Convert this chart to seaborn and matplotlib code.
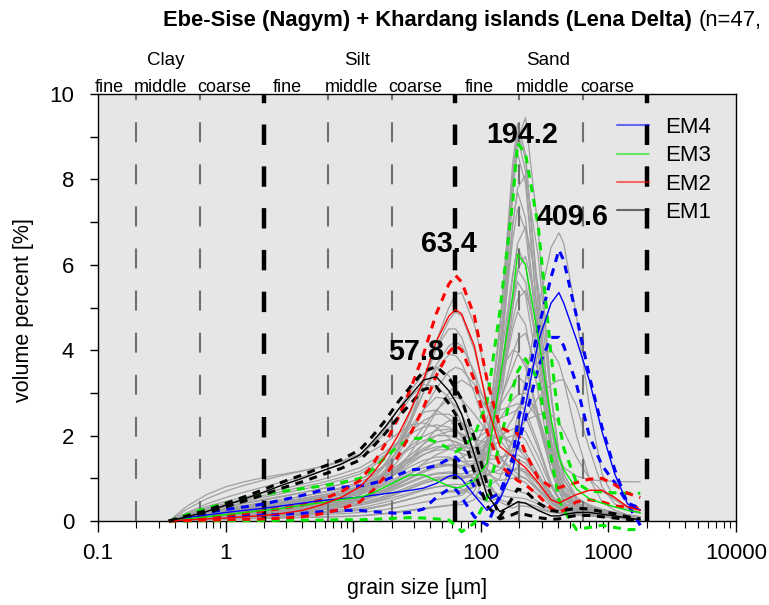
import numpy as np
import pandas as pd
import matplotlib
matplotlib.use("Agg")
import matplotlib.pyplot as plt
import matplotlib.transforms as mtransforms
from matplotlib import ticker
from matplotlib.lines import Line2D
import seaborn as sns

# grain-size classes (µm) of the distributions
grain_size = [0.36, 0.5, 0.71, 1.0, 1.41, 2.0, 2.83, 4.0, 5.66, 8.0,
              11.3, 14.1, 17.8, 22.4, 28.2, 35.5, 44.7, 56.2, 63.4, 70.8,
              89.1, 112, 141, 178, 194.2, 224, 282, 355, 409.6, 447,
              562, 708, 891, 1122, 1413, 1778]

# measured samples, volume percent per class
samples = [
    [0, .02, .03, .04, .05, .06, .07, .08, .09, .10, .12, .14, .17, .20, .24, .28, .32, .36, .40, .45,
     .70, 1.4, 3.6, 7.6, 8.9, 9.45, 6.8, 3.0, 1.5, 1.0, .45, .25, .15, .10, .06, .04],
    [0, .03, .05, .07, .08, .10, .11, .13, .15, .17, .20, .23, .27, .32, .38, .44, .50, .55, .58, .60,
     .85, 1.8, 4.4, 8.4, 9.3, 8.6, 5.0, 1.9, .90, .60, .30, .20, .15, .10, .07, .05],
    [0, .04, .07, .09, .11, .13, .15, .17, .20, .23, .27, .32, .38, .45, .52, .60, .65, .68, .68, .66,
     .80, 1.6, 4.0, 8.1, 9.1, 8.5, 5.3, 2.2, 1.1, .70, .35, .22, .16, .12, .08, .06],
    [0, .03, .05, .07, .09, .11, .13, .15, .18, .21, .25, .30, .36, .44, .52, .60, .66, .70, .70, .70,
     .90, 1.9, 4.6, 8.0, 8.6, 7.9, 4.6, 1.8, .90, .60, .32, .22, .16, .12, .09, .06],
    [0, .05, .08, .10, .12, .14, .16, .19, .22, .26, .31, .37, .44, .53, .62, .72, .80, .85, .86, .85,
     1.0, 1.6, 3.5, 6.9, 7.8, 8.1, 6.2, 3.0, 1.6, 1.1, .55, .33, .22, .15, .10, .07],
    [0, .04, .08, .11, .13, .16, .19, .22, .26, .31, .37, .44, .53, .64, .76, .88, .96, 1.0, 1.0, .98,
     1.1, 1.8, 3.9, 7.0, 7.7, 7.1, 4.3, 1.8, .95, .65, .35, .25, .20, .15, .10, .07],
    [0, .06, .12, .16, .20, .24, .28, .32, .37, .43, .50, .58, .68, .80, .93, 1.05, 1.12, 1.15, 1.13, 1.10,
     1.2, 1.9, 3.8, 6.6, 7.3, 6.8, 4.2, 1.9, 1.0, .70, .40, .28, .20, .15, .10, .07],
    [0, .05, .09, .12, .15, .18, .21, .25, .29, .34, .40, .47, .56, .66, .78, .90, .98, 1.02, 1.02, 1.0,
     1.1, 1.6, 3.2, 5.7, 6.5, 6.9, 5.5, 2.9, 1.6, 1.1, .55, .33, .22, .15, .10, .07],
    [0, .08, .15, .20, .25, .30, .35, .40, .46, .53, .62, .72, .84, .98, 1.12, 1.25, 1.32, 1.33, 1.30, 1.26,
     1.3, 1.9, 3.6, 5.8, 6.4, 6.0, 3.8, 1.7, .95, .70, .42, .30, .24, .18, .12, .08],
    [0, .05, .10, .14, .17, .20, .24, .28, .32, .37, .43, .50, .59, .70, .82, .94, 1.02, 1.05, 1.05, 1.03,
     1.1, 1.6, 3.1, 5.2, 5.9, 5.6, 3.9, 2.2, 1.5, 1.25, 1.05, .97, .94, .93, .92, .92],
    [0, .10, .18, .24, .30, .36, .42, .48, .55, .63, .73, .84, .97, 1.12, 1.28, 1.42, 1.50, 1.50, 1.45, 1.40,
     1.4, 1.8, 3.0, 4.7, 5.2, 5.4, 4.2, 2.2, 1.3, .95, .55, .38, .28, .20, .14, .10],
    [0, .07, .13, .18, .22, .26, .30, .35, .40, .46, .54, .63, .74, .88, 1.03, 1.18, 1.28, 1.32, 1.32, 1.30,
     1.35, 1.8, 3.0, 4.5, 4.9, 4.6, 3.0, 1.4, .80, .58, .36, .26, .20, .15, .10, .07],
    [0, .12, .22, .30, .37, .44, .51, .58, .66, .75, .86, .98, 1.13, 1.30, 1.48, 1.64, 1.74, 1.76, 1.72, 1.66,
     1.6, 1.85, 2.7, 3.9, 4.25, 4.4, 3.5, 1.9, 1.15, .85, .50, .35, .26, .20, .14, .10],
    [0, .09, .17, .23, .28, .33, .39, .45, .52, .60, .70, .82, .97, 1.15, 1.35, 1.55, 1.70, 1.78, 1.78, 1.75,
     1.7, 2.0, 2.8, 3.6, 3.9, 3.7, 2.5, 1.2, .70, .50, .32, .24, .19, .15, .10, .07],
    [0, .14, .26, .35, .43, .51, .59, .67, .76, .86, .98, 1.12, 1.30, 1.52, 1.76, 1.98, 2.12, 2.15, 2.10, 2.02,
     1.9, 2.1, 2.7, 3.2, 3.4, 3.2, 2.3, 1.2, .72, .52, .33, .24, .18, .14, .10, .07],
    [0, .06, .12, .16, .20, .24, .28, .33, .38, .44, .52, .62, .75, .92, 1.12, 1.35, 1.55, 1.68, 1.72, 1.72,
     1.7, 1.9, 2.4, 2.85, 2.95, 3.0, 2.5, 1.5, .90, .65, .40, .28, .20, .15, .10, .07],
    [0, .16, .30, .41, .50, .60, .70, .80, .90, 1.02, 1.16, 1.33, 1.55, 1.82, 2.10, 2.35, 2.50, 2.50, 2.42, 2.30,
     2.1, 2.15, 2.4, 2.55, 2.6, 2.45, 1.7, .85, .50, .36, .22, .16, .12, .09, .06, .04],
    [0, .10, .20, .27, .33, .39, .46, .53, .61, .70, .81, .94, 1.10, 1.30, 1.55, 1.80, 2.00, 2.10, 2.10, 2.05,
     1.9, 1.85, 2.0, 2.15, 2.2, 2.1, 1.5, .80, .50, .38, .26, .20, .15, .11, .08, .05],
    [0, .02, .04, .05, .06, .07, .08, .09, .10, .11, .13, .15, .18, .22, .26, .30, .34, .37, .38, .38,
     .50, 1.2, 3.6, 8.0, 9.0, 8.2, 4.5, 1.6, .70, .45, .22, .14, .10, .07, .05, .03],
    [0, .11, .20, .27, .33, .39, .45, .52, .60, .69, .80, .92, 1.06, 1.22, 1.40, 1.56, 1.66, 1.68, 1.64, 1.58,
     1.5, 1.8, 3.0, 5.0, 5.6, 5.3, 3.5, 1.6, .90, .65, .40, .30, .22, .16, .11, .07],
    [0, .07, .14, .20, .25, .30, .35, .41, .48, .56, .66, .78, .94, 1.15, 1.45, 1.80, 2.15, 2.35, 2.38, 2.30,
     1.9, 1.45, 1.45, 1.65, 1.7, 1.6, 1.1, .60, .38, .30, .22, .17, .13, .09, .06, .04],
    [0, .05, .10, .14, .18, .22, .26, .31, .36, .42, .50, .59, .70, .84, 1.0, 1.17, 1.32, 1.42, 1.45, 1.48,
     1.7, 2.4, 3.5, 4.0, 3.95, 3.6, 2.4, 1.2, .70, .50, .30, .22, .17, .12, .08, .05],
    [0, .09, .17, .23, .29, .35, .41, .48, .56, .65, .76, .89, 1.05, 1.25, 1.48, 1.70, 1.85, 1.90, 1.86, 1.80,
     1.6, 1.6, 1.9, 2.4, 2.65, 2.8, 2.4, 1.4, .85, .62, .38, .27, .20, .15, .10, .07],
    [0, .03, .06, .08, .10, .12, .14, .16, .19, .22, .26, .31, .37, .44, .52, .60, .66, .70, .71, .71,
     .80, 1.2, 2.6, 5.0, 5.9, 6.2, 4.9, 2.4, 1.2, .80, .40, .25, .18, .13, .09, .06],
    [0, .18, .34, .46, .56, .66, .76, .86, .97, 1.10, 1.25, 1.42, 1.62, 1.85, 2.05, 2.20, 2.25, 2.20, 2.10, 2.00,
     1.7, 1.4, 1.25, 1.2, 1.2, 1.15, .85, .50, .32, .25, .18, .14, .10, .07, .05, .03],
    [0, .03, .06, .08, .10, .12, .15, .19, .25, .35, .50, .70, 1.05, 1.60, 2.35, 3.25, 4.20, 5.00, 5.30, 5.35,
     4.6, 3.3, 2.2, 1.5, 1.3, 1.1, .75, .45, .35, .32, .30, .28, .22, .15, .10, .07],
    [0, .04, .08, .11, .14, .17, .21, .26, .33, .44, .60, .80, 1.15, 1.70, 2.40, 3.20, 4.05, 4.70, 4.90, 4.80,
     4.0, 2.8, 1.9, 1.5, 1.45, 1.35, 1.0, .60, .45, .40, .35, .30, .24, .17, .11, .07],
    [0, .06, .11, .15, .19, .23, .28, .34, .42, .54, .72, .95, 1.30, 1.85, 2.55, 3.30, 4.05, 4.50, 4.50, 4.30,
     3.4, 2.3, 1.5, 1.1, 1.0, .90, .60, .35, .25, .22, .20, .18, .14, .10, .07, .05],
    [0, .05, .10, .13, .17, .21, .25, .31, .39, .50, .66, .88, 1.20, 1.70, 2.30, 3.00, 3.65, 4.10, 4.20, 4.10,
     3.5, 2.6, 2.0, 1.8, 1.75, 1.6, 1.1, .60, .40, .33, .27, .22, .17, .12, .08, .05],
    [0, .08, .15, .20, .25, .30, .36, .43, .52, .64, .80, 1.02, 1.35, 1.80, 2.40, 3.00, 3.55, 3.90, 3.88, 3.70,
     3.0, 2.1, 1.5, 1.2, 1.1, 1.0, .70, .40, .30, .27, .25, .22, .17, .12, .08, .05],
    [0, .05, .10, .14, .17, .21, .26, .32, .40, .51, .66, .86, 1.15, 1.55, 2.05, 2.60, 3.10, 3.50, 3.60, 3.55,
     3.2, 2.8, 2.6, 2.7, 2.75, 2.6, 1.8, .90, .55, .42, .30, .22, .17, .12, .08, .05],
    [0, .07, .13, .18, .22, .27, .32, .38, .46, .56, .70, .88, 1.10, 1.40, 1.80, 2.20, 2.60, 2.85, 2.90, 2.85,
     2.5, 2.1, 1.9, 2.0, 2.05, 1.9, 1.3, .65, .40, .32, .25, .20, .15, .11, .07, .05],
    [0, .04, .08, .11, .14, .17, .21, .26, .32, .40, .52, .68, .90, 1.20, 1.60, 2.05, 2.55, 3.00, 3.20, 3.30,
     3.1, 2.6, 2.1, 1.8, 1.7, 1.5, 1.0, .55, .38, .32, .27, .22, .17, .12, .08, .05],
    [0, .20, .40, .55, .68, .80, .92, 1.04, 1.17, 1.32, 1.55, 1.80, 2.15, 2.60, 3.05, 3.45, 3.60, 3.40, 3.15, 2.85,
     2.0, 1.0, .45, .30, .35, .35, .28, .20, .18, .18, .20, .18, .14, .10, .07, .05],
    [0, .28, .52, .70, .84, .96, 1.07, 1.17, 1.28, 1.40, 1.57, 1.78, 2.05, 2.45, 2.90, 3.20, 3.15, 2.90, 2.60, 2.30,
     1.6, .90, .50, .40, .42, .42, .33, .22, .18, .16, .14, .12, .10, .08, .05, .03],
    [0, .14, .28, .38, .47, .56, .65, .74, .84, .96, 1.10, 1.27, 1.50, 1.80, 2.20, 2.60, 2.90, 2.85, 2.70, 2.50,
     1.9, 1.2, .80, .70, .70, .65, .45, .28, .20, .18, .16, .14, .11, .08, .05, .03],
    [0, .10, .20, .28, .35, .42, .50, .58, .67, .78, .91, 1.06, 1.30, 1.65, 2.10, 2.55, 2.60, 2.40, 2.20, 1.95,
     1.5, 1.1, .95, 1.0, 1.05, 1.0, .75, .45, .30, .25, .20, .16, .12, .09, .06, .04],
    [0, .35, .62, .80, .92, 1.02, 1.10, 1.18, 1.27, 1.38, 1.50, 1.64, 1.82, 2.05, 2.25, 2.30, 2.20, 1.95, 1.75, 1.55,
     1.15, .80, .60, .55, .55, .52, .40, .26, .20, .18, .16, .14, .11, .08, .05, .03],
    [0, .12, .24, .33, .41, .49, .57, .66, .75, .86, .98, 1.12, 1.30, 1.50, 1.70, 1.88, 2.00, 2.00, 1.95, 1.88,
     1.7, 1.55, 1.5, 1.55, 1.55, 1.45, 1.0, .55, .35, .28, .22, .17, .13, .09, .06, .04],
    [0, .09, .18, .25, .31, .37, .43, .50, .57, .65, .75, .87, 1.02, 1.20, 1.42, 1.65, 1.85, 1.90, 1.85, 1.75,
     1.45, 1.2, 1.1, 1.2, 1.25, 1.2, .85, .45, .28, .22, .17, .13, .10, .07, .05, .03],
    [0, .05, .09, .12, .15, .18, .21, .24, .28, .32, .37, .43, .50, .58, .66, .74, .80, .82, .80, .75,
     .60, .45, .55, 1.5, 2.2, 3.3, 5.0, 6.4, 6.75, 6.5, 4.8, 2.7, 1.1, .50, .30, .20],
    [0, .08, .15, .20, .25, .30, .35, .41, .47, .55, .64, .75, .88, 1.02, 1.18, 1.32, 1.42, 1.46, 1.44, 1.40,
     1.25, 1.1, 1.2, 1.7, 2.0, 2.4, 2.9, 3.2, 3.3, 3.3, 2.7, 1.7, .80, .40, .25, .18],
    [0, .06, .11, .15, .18, .22, .26, .30, .35, .40, .47, .55, .65, .77, .90, 1.02, 1.10, 1.12, 1.10, 1.06,
     1.0, 1.05, 1.35, 1.9, 2.1, 2.35, 2.5, 2.5, 2.3, 2.1, 1.5, 1.0, .70, .50, .35, .25],
    [0, .06, .12, .16, .20, .24, .28, .33, .38, .44, .52, .61, .72, .86, 1.0, 1.14, 1.25, 1.30, 1.28, 1.22,
     1.0, .80, 1.0, 1.9, 2.5, 3.3, 3.9, 4.0, 3.7, 3.3, 2.0, 1.0, .45, .25, .15, .10],
]

# end-members: mean loading with lower / upper bounds
em1 = [0, .10, .22, .37, .52, .68, .85, 1.0, 1.17, 1.33, 1.55, 1.85, 2.2, 2.6, 2.95, 3.3, 3.38, 3.05, 2.8, 2.5,
       1.55, .60, .22, .38, .45, .42, .25, .12, .12, .15, .20, .20, .16, .12, .07, .03]
em1_hi = [0, .12, .25, .41, .57, .74, .92, 1.08, 1.26, 1.43, 1.67, 1.98, 2.35, 2.78, 3.15, 3.5, 3.62, 3.35, 3.1, 2.85,
          1.95, .85, .10, .55, .75, .70, .42, .25, .22, .25, .30, .28, .22, .17, .10, .05]
em1_lo = [0, .08, .19, .33, .47, .62, .78, .92, 1.08, 1.23, 1.43, 1.72, 2.05, 2.42, 2.75, 3.08, 3.15, 2.75, 2.5, 2.15,
          1.15, .35, .05, .15, .20, .15, .08, .04, .05, .08, .13, .13, .10, .07, .04, .02]

em2 = [0, .03, .05, .07, .10, .13, .18, .25, .38, .55, .80, 1.1, 1.5, 2.0, 2.6, 3.3, 4.2, 4.8, 4.95, 4.85,
       4.1, 2.7, 1.75, 1.5, 1.4, 1.25, .90, .50, .42, .48, .62, .72, .72, .55, .33, .25]
em2_hi = [0, .05, .09, .13, .18, .24, .30, .38, .50, .68, .95, 1.3, 1.8, 2.4, 3.1, 3.9, 4.85, 5.55, 5.75, 5.6,
          4.8, 3.3, 2.2, 2.05, 2.05, 1.6, 1.0, .80, .78, .82, .90, .98, 1.0, .85, .65, .55]
em2_lo = [0, .01, .02, .03, .04, .05, .07, .10, .17, .28, .45, .70, 1.05, 1.5, 2.05, 2.65, 3.4, 3.95, 4.12, 4.0,
          3.3, 2.1, 1.3, 1.05, .95, .85, .60, .30, .20, .25, .45, .50, .45, .35, .33, .30]

em3 = [0, .05, .10, .15, .20, .25, .30, .37, .43, .50, .56, .65, .80, .95, 1.08, 1.08, .95, .82, .77, .80,
       .95, 1.35, 3.3, 5.3, 6.25, 6.0, 4.3, 2.4, 1.5, 1.2, .75, .52, .42, .33, .25, .20]
em3_hi = [0, .15, .30, .42, .53, .62, .70, .76, .82, .90, 1.0, 1.2, 1.48, 1.75, 1.92, 1.95, 1.85, 1.7, 1.62, 1.7,
          2.0, 2.8, 4.9, 7.5, 8.85, 8.6, 6.9, 3.9, 2.3, 1.7, .90, .70, .68, .66, .65, .65]
em3_lo = [0, 0, .01, .01, .01, .01, .02, .02, .02, .03, .03, .04, .05, .07, .08, .07, .05, .02, -.10, -.25,
          -.05, .55, 1.85, 3.1, 3.5, 3.8, 3.3, 1.5, .50, .25, -.20, -.15, -.10, -.15, -.20, -.20]

em4 = [0, .08, .14, .20, .25, .30, .36, .42, .48, .52, .56, .60, .64, .68, .72, .77, .88, 1.05, 1.08, .98,
       .60, .25, .50, 1.2, 1.8, 2.7, 4.2, 5.1, 5.35, 5.1, 4.25, 3.3, 2.1, 1.1, .40, .26]
em4_hi = [0, .10, .20, .27, .33, .40, .50, .60, .72, .79, .82, .88, .96, 1.08, 1.2, 1.22, 1.3, 1.45, 1.5, 1.35,
          .80, .50, .65, 1.5, 2.3, 3.1, 4.5, 5.7, 6.35, 6.1, 4.8, 3.4, 2.2, 1.2, .40, -.10]
em4_lo = [0, .05, .08, .10, .12, .14, .16, .18, .22, .25, .25, .22, .20, .18, .20, .28, .55, .75, .75, .55,
          .10, -.10, .60, 1.35, 1.75, 2.4, 3.6, 4.3, 4.3, 4.1, 3.2, 2.0, 1.3, .90, .42, .30]

em_names = ["EM4", "EM3", "EM2", "EM1"]
em_modes = [409.6, 194.2, 63.4, 57.8]

# grain-size class scheme
class_edges = [0.1, 0.2, 0.63, 2, 6.3, 20, 63, 200, 630, 2000]
main_edges = [2, 63, 2000]
fractions = ["fine", "middle", "coarse"]
groups = ["Clay", "Silt", "Sand"]

x_ticks = [0.1, 1, 10, 100, 1000, 10000]

sns.set_theme(style="ticks")
plt.rcParams["font.family"] = ["Liberation Sans", "DejaVu Sans"]
plt.rcParams.update({"text.color": "black", "axes.labelcolor": "black",
                     "xtick.color": "black", "ytick.color": "black"})

fig = plt.figure(figsize=(7.69, 6.05), dpi=100)
fig.patch.set_facecolor("white")
ax = fig.add_axes([0.1274, 0.1388, 0.8297, 0.7058])
ax.set_facecolor("#e6e6e6")
ax.set_xscale("log")

# individual sample distributions
rows = [(i, s, v) for i, curve in enumerate(samples) for s, v in zip(grain_size, curve)]
sample_df = pd.DataFrame(rows, columns=["sample", "size", "vol"])
sns.lineplot(data=sample_df, x="size", y="vol", units="sample", estimator=None,
             color="#a0a0a0", lw=0.9, ax=ax, legend=False, zorder=2)

# class boundaries
for b in class_edges[1:]:
    if b in main_edges:
        ax.axvline(b, color="black", lw=3.2, linestyle=(0, (4.6, 4.8)), zorder=2.5)
    else:
        ax.axvline(b, color="#707070", lw=1.5, linestyle=(0, (9.6, 10.6)), zorder=2.5)

# end-members with their bounds
members = [
    ("EM4", "#0000ff", em4, em4_lo, em4_hi),
    ("EM3", "#00e600", em3, em3_lo, em3_hi),
    ("EM2", "#ff0000", em2, em2_lo, em2_hi),
    ("EM1", "#000000", em1, em1_lo, em1_hi),
]
for name, color, mean, lo, hi in members:
    for bound in (lo, hi):
        sns.lineplot(x=grain_size, y=bound, color=color, lw=2.2,
                     linestyle=(0, (2.6, 2.2)), clip_on=False, ax=ax, zorder=3)
    sns.lineplot(x=grain_size, y=mean, color=color, lw=1.0, ax=ax, zorder=4)

# mode labels
mode_label_pos = {409.6: (10, 6.93), 194.2: (3, 8.85), 63.4: (-5, 6.30), 57.8: (-24.5, 3.77)}
for m in em_modes:
    dx, yb = mode_label_pos[m]
    ax.annotate(f"{m:.1f}", xy=(m, yb), xytext=(dx, 0), textcoords="offset points",
                ha="center", va="baseline", fontsize=20.7, fontweight="bold",
                color="black", zorder=6)

ax.set_xlim(0.1, 10000)
ax.set_ylim(0, 10)
ax.set_xticks(x_ticks)
ax.set_xticklabels([f"{t:g}" for t in x_ticks])
ax.xaxis.set_minor_locator(ticker.LogLocator(base=10, subs=np.arange(2, 10)))
ax.xaxis.set_minor_formatter(ticker.NullFormatter())
ax.set_yticks(range(0, 11, 2))
ax.yaxis.set_minor_locator(ticker.MultipleLocator(1))
ax.tick_params(axis="x", which="major", direction="out", length=8, width=1, pad=8, labelsize=16, color="black")
ax.tick_params(axis="x", which="minor", direction="out", length=5, width=0.8, color="black")
ax.tick_params(axis="y", which="both", direction="out", length=6, width=1, pad=11, labelsize=16, color="black")
for sp in ax.spines.values():
    sp.set_color("black")
    sp.set_linewidth(1.0)

ax.set_xlabel("grain size [µm]", fontsize=15.5)
ax.set_ylabel("volume percent [%]", fontsize=15.5)
ax.xaxis.set_label_coords(0.5, -0.133)
ax.yaxis.set_label_coords(-0.1003, 0.494)

# class labels above the plot
blend = mtransforms.blended_transform_factory(ax.transData, ax.transAxes)
sub_trans = mtransforms.offset_copy(blend, fig=fig, x=-5.8, y=0, units="points")
grp_trans = mtransforms.offset_copy(blend, fig=fig, x=-2, y=0, units="points")
for k in range(9):
    lo_e, hi_e = class_edges[k], class_edges[k + 1]
    ax.text(np.sqrt(lo_e * hi_e), 1.0047, fractions[k % 3], transform=sub_trans,
            ha="center", va="baseline", fontsize=13)
for g in range(3):
    lo_e, hi_e = class_edges[3 * g + 1], class_edges[3 * g + 2]
    ax.text(np.sqrt(lo_e * hi_e), 1.068, groups[g], transform=grp_trans,
            ha="center", va="baseline", fontsize=13.5)

legend_handles = [Line2D([], [], color=c, lw=1.5, alpha=0.55) for _, c, *_ in members]
ax.legend(legend_handles, em_names, loc="upper left", bbox_to_anchor=(0.8135, 0.946),
          frameon=False, fontsize=16, handlelength=1.45, handletextpad=0.73,
          labelspacing=0.33, borderpad=0, borderaxespad=0)

title = fig.text(163 / 769, 1 - 26 / 605, "Ebe-Sise (Nagym) + Khardang islands (Lena Delta)",
                 ha="left", va="baseline", fontsize=15.8, fontweight="bold")
ax.annotate("(n=47,", xy=(1, 0), xycoords=title, xytext=(5, 0), textcoords="offset points",
            ha="left", va="bottom", fontsize=15.8, annotation_clip=False)

fig.savefig("out.png", dpi=100, facecolor="white")
